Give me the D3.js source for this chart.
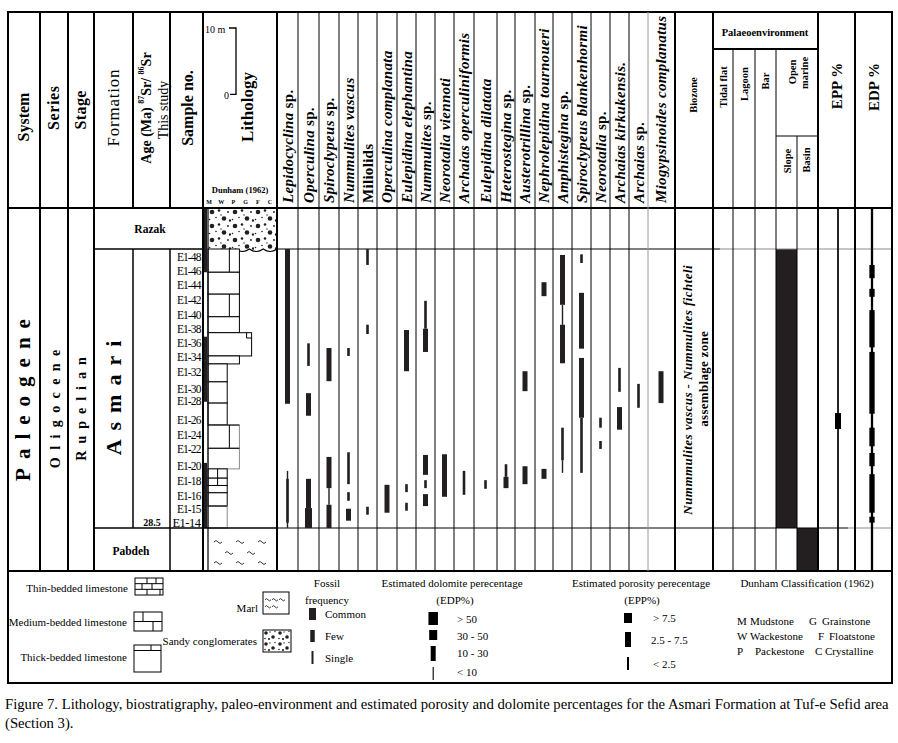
<!DOCTYPE html>
<html><head><meta charset="utf-8">
<script src="https://cdn.jsdelivr.net/npm/d3@7/dist/d3.min.js"></script>
<style>
html,body{margin:0;padding:0;background:#fff;}
svg{display:block;}
text{font-family:"Liberation Serif","Times New Roman",Times,serif;fill:#000;}
</style></head><body>
<svg id="chart" width="898" height="743"></svg>
<script>
// ================= DATA =================
const systemName = "Paleogene";
const seriesName = "Oligocene";
const stageName = "Rupelian";
const formationNames = ["Razak", "Asmari", "Pabdeh"];
const formationTops = [48.2, 42.0, 0.0];      // metres above the base of the Asmari
const formationBases = [42.0, 0.0, -6.5];
const ageValue = "28.5";
const ageHeight = 0.8;
const sampleLabels = ["E1-48","E1-46","E1-44","E1-42","E1-40","E1-38","E1-36","E1-34","E1-32","E1-30","E1-28","E1-26","E1-24","E1-22","E1-20","E1-18","E1-16","E1-15","E1-14"];
const sampleHeights = [40.8,38.7,36.6,34.3,32.1,30.0,27.9,25.7,23.5,20.9,19.1,16.3,14.0,11.9,9.3,7.1,4.8,2.9,0.8];
const dunhamCodes = ["M","W","P","G","F","C"];
// lithology beds: [top m, base m, Dunham texture, bed style]
const lithBeds = [
  [42.0,38.5,"P","brick"],[38.5,35.2,"P","plain"],[35.2,31.8,"P","brick"],[31.8,29.4,"P","plain"],
  [29.4,25.9,"G","plain"],[25.9,24.7,"P","plain"],[24.7,22.0,"W","plain"],[22.0,18.8,"W","plain"],
  [18.8,15.5,"W","plain"],[15.5,12.0,"P","brickgray"],[12.0,8.9,"P","gray"],[8.9,7.5,"W","brick"],
  [7.5,6.4,"W","brick"],[6.4,5.3,"W","plain"],[5.3,3.3,"W","plain"],[3.3,0.0,"W","gray"]
];
const markedIntervals = [[48.2,38.5],[28.8,19.0],[9.8,0.0]];
const speciesNames = ["Lepidocyclina sp.","Operculina sp.","Spiroclypeus sp.","Nummulites vascus","Miliolids",
  "Operculina complanata","Eulepidina elephantina","Nummulites sp.","Neorotalia viennoti","Archaias operculiniformis",
  "Eulepidina dilatata","Heterostegina sp.","Austerotrillina sp.","Nephrolepidina tournoueri","Amphistegina sp.",
  "Spiroclypeus blankenhormi","Neorotalia sp.","Archaias kirkukensis.","Archaias sp.","Miogypsinoides complanatus"];
// ranges per species: [top m, base m, frequency] C=common F=few S=single T=trace
const speciesRanges = [
  [[42.0,18.7,"F"],[8.6,0.0,"T"],[7.4,0.8,"S"]],
  [[27.8,24.4,"S"],[20.3,16.9,"F"],[7.4,3.0,"F"],[3.0,0.0,"C"]],
  [[27.1,22.1,"F"],[10.7,6.0,"F"],[6.0,3.5,"T"],[3.5,0.0,"F"]],
  [[27.1,25.9,"S"],[11.4,6.6,"S"],[5.4,4.1,"S"],[2.9,1.1,"F"]],
  [[42.0,39.6,"S"],[30.6,29.2,"S"],[3.2,2.0,"S"]],
  [[6.5,2.3,"F"]],
  [[29.8,23.6,"F"],[6.6,5.4,"S"],[3.8,2.6,"S"]],
  [[34.2,30.0,"S"],[30.0,26.5,"F"],[11.0,8.0,"F"],[7.2,6.0,"S"],[5.1,3.3,"F"]],
  [[11.1,4.7,"F"]],
  [[8.6,5.0,"S"]],
  [[7.2,5.9,"S"]],
  [[9.6,7.7,"S"],[7.7,6.0,"F"]],
  [[23.6,20.6,"F"],[9.3,6.6,"F"]],
  [[37.0,34.9,"F"],[8.9,7.4,"F"]],
  [[41.1,33.6,"F"],[33.6,30.6,"T"],[30.6,24.8,"F"],[15.1,10.2,"S"],[10.2,8.3,"T"]],
  [[41.2,39.9,"S"],[35.4,27.0,"F"],[25.6,16.6,"F"],[16.6,8.3,"S"]],
  [[16.6,15.1,"S"],[13.1,11.9,"S"]],
  [[24.1,20.5,"S"],[18.2,14.8,"F"]],
  [[21.7,18.1,"S"]],
  [[23.6,18.8,"F"]]
];
const biozoneItalic = "Nummmulites vascus - Nummulites fichteli";
const biozoneTail = "assemblage zone";
const envNames = ["Tidal flat","Lagoon","Bar","Slope","Basin"];
const envRanges = [["Slope",42.0,0.0],["Basin",0.0,-6.5]];
const eppRanges = [[48.2,-6.5,"< 2.5"],[17.3,14.9,"2.5 - 7.5"]];
const edpRanges = [[48.2,-6.5,"< 10"],[39.6,37.6,"10 - 30"],[36.0,34.8,"10 - 30"],[32.8,27.2,"10 - 30"],
  [26.5,17.2,"10 - 30"],[15.1,12.3,"10 - 30"],[11.3,9.3,"10 - 30"],[8.1,2.3,"10 - 30"],[1.7,0.8,"10 - 30"]];
const freqCodes = ["C","F","S"];
const freqLabels = ["Common","Few","Single"];
const edpClasses = ["> 50","30 - 50","10 - 30","< 10"];
const eppClasses = ["> 7.5","2.5 - 7.5","< 2.5"];
const lithLegend = ["Thin-bedded limestone","Medium-bedded limestone","Thick-bedded limestone"];
const dunhamLegendL = [["M","Mudstone"],["W","Wackestone"],["P","Packestone"]];
const dunhamLegendR = [["G","Grainstone"],["F","Floatstone"],["C","Crystalline"]];
const captionLines = ["Figure 7. Lithology, biostratigraphy, paleo-environment and estimated porosity and dolomite percentages for the Asmari Formation at Tuf-e Sefid area","(Section 3)."];

// ================= LAYOUT / STYLE =================
const X0 = 8, X1 = 892, Y0 = 12, YH = 208, YB = 571, YL = 683;
const INK = "#231f20";
const y = d3.scaleLinear().domain([0, 42]).range([528, 249]);
const spWidths = [21,21,20,19,19,20,19,19,19,20,23,18,20,18,19,19,19,19,19,26];
const spEdges = Array.from(d3.cumsum([0, ...spWidths]), v => 277 + v);
const spX = d3.scaleOrdinal(speciesNames, speciesNames.map((d, i) => (spEdges[i] + spEdges[i + 1]) / 2));
const freqW = {C: 7, F: 5, S: 2.6, T: 1.4};
const dunX = d3.scalePoint(dunhamCodes, [209, 270]);
const texEdge = t => dunX(t) + 6;
const envEdges = [713, 733, 755, 776, 797, 818];
const envX0 = d3.scaleOrdinal(envNames, envEdges.slice(0, 5));
const envX1 = d3.scaleOrdinal(envNames, envEdges.slice(1));
const eppX = 838, edpX = 872;
const eppW = {"> 7.5": 8, "2.5 - 7.5": 6, "< 2.5": 1.7};
const edpW = {"> 50": 9.5, "30 - 50": 8, "10 - 30": 5.3, "< 10": 2.3};

const svg = d3.select("#chart");
svg.append("rect").attr("width", 898).attr("height", 743).attr("fill", "#fff");
const defs = svg.append("defs");
const pat = defs.append("pattern").attr("id", "cong").attr("patternUnits", "userSpaceOnUse")
  .attr("x", 208).attr("y", 208).attr("width", 23).attr("height", 14);
[[4,4,2.3],[16,10.5,2.3],[11,2.5,1.3],[8,9.5,0.8],[20,4,0.9],[1.5,11.5,0.8],[13,7,0.7],[22,12.5,1.2]]
  .forEach(c => pat.append("circle").attr("cx", c[0]).attr("cy", c[1]).attr("r", c[2]).attr("fill", INK));

const g = svg.append("g");
function ln(x1, y1, x2, y2, w = 1, c = "#000") {
  return g.append("line").attr("x1", x1).attr("y1", y1).attr("x2", x2).attr("y2", y2)
    .attr("stroke", c).attr("stroke-width", w);
}
function txt(x, yy, s, o = {}) {
  const t = g.append("text").attr("x", x).attr("y", yy).attr("dominant-baseline", "central")
    .attr("text-anchor", o.anchor || "start").style("font-size", (o.size || 11) + "px")
    .style("font-weight", o.weight || "normal").style("font-style", o.style || "normal");
  if (o.ls) t.style("letter-spacing", o.ls + "px");
  t.text(s);
  return t;
}
function vt(x, yc, s, o = {}) {
  const ls = o.ls || 0;
  const anchor = o.anchor || "middle";
  const t = g.append("text").attr("transform", `translate(${x},${yc - (anchor === "middle" ? ls / 2 : 0)}) rotate(-90)`)
    .attr("dominant-baseline", "central").attr("text-anchor", anchor)
    .style("font-size", (o.size || 12) + "px").style("font-weight", o.weight || "bold")
    .style("font-style", o.style || "normal");
  if (ls) t.style("letter-spacing", ls + "px");
  if (s !== null) t.text(s);
  return t;
}
function tilde(x, yy, s = 1) {
  g.append("path").attr("d", `M${x - 4 * s},${yy + 1 * s} q${2 * s},${-3 * s} ${4 * s},0 t${4 * s},0`)
    .attr("fill", "none").attr("stroke", INK).attr("stroke-width", 0.9);
}

// ================= BODY FILLS =================
// Razak conglomerate with scalloped base
(function () {
  const top = y(formationTops[0]), base = y(formationBases[0]);
  let p = `M208,${top} L277,${top} L277,${base}`;
  const n = 5, w = (277 - 208) / n;
  let wave = `M277,${base}`;
  for (let k = 0; k < n; k++) {
    const xa = 277 - k * w;
    p += ` Q${xa - w / 2},${base + 5} ${xa - w},${base}`;
    wave += ` Q${xa - w / 2},${base + 5} ${xa - w},${base}`;
  }
  p += " Z";
  g.append("path").attr("d", p).attr("fill", "url(#cong)");
  g.append("path").attr("d", wave).attr("fill", "none").attr("stroke", "#000").attr("stroke-width", 1.2);
})();

// Pabdeh marl
[[218,541],[240,541],[262,541],[229,552],[251,552],[218,562],[240,562],[262,562]].forEach(p => tilde(p[0], p[1]));

// Lithology beds
lithBeds.forEach(b => {
  const x0 = 208, x1 = texEdge(b[2]), yt = y(b[0]), yb = y(b[1]);
  const gray = b[3].includes("gray");
  g.append("rect").attr("x", x0).attr("y", yt).attr("width", x1 - x0).attr("height", yb - yt)
    .attr("fill", "#fff").attr("stroke", gray ? "#8a8a8a" : "#000").attr("stroke-width", 1);
  if (gray) ln(x0, yt, x1, yt, 1);
  if (b[3].includes("brick")) {
    const xm = x0 + (x1 - x0) * (b[2] === "W" ? 0.5 : 0.68);
    ln(xm, yt, xm, yb, 1);
  }
});
// grainstone step detail
ln(texEdge("G") - 5, y(29.4), texEdge("G") - 5, y(28.6), 1);
ln(texEdge("G") - 5, y(28.6), texEdge("G"), y(28.6), 1);

// Marked intervals on lithology margin
g.selectAll(null).data(markedIntervals).join("rect")
  .attr("x", 203).attr("width", 4).attr("y", d => y(d[0])).attr("height", d => y(d[1]) - y(d[0])).attr("fill", INK);

// Palaeoenvironment fills
g.selectAll(null).data(envRanges).join("rect")
  .attr("x", d => envX0(d[0])).attr("width", d => envX1(d[0]) - envX0(d[0]))
  .attr("y", d => y(d[1])).attr("height", d => y(d[2]) - y(d[1])).attr("fill", INK);

// ================= GRID =================
ln(X0 - 1, Y0, X1 + 1, Y0, 2);
ln(X0, YH, X1, YH, 2);
ln(94, y(42), 203, y(42), 1.3);
ln(277, y(42), 675, y(42), 1);
ln(675, y(42), 720, y(42), 1.2);
ln(720, y(42), X1, y(42), 1, "#8a8a8a");
ln(94, y(0), 277, y(0), 1.3);
ln(277, y(0), 675, y(0), 1);
ln(675, y(0), 848, y(0), 1.2);
ln(848, y(0), X1, y(0), 1, "#8a8a8a");
ln(X0, YB, X1, YB, 2);
ln(X0 - 1, YL, X1 + 1, YL, 2);
ln(713, 49, 818, 49, 2);
ln(776, 136, 818, 136, 1);
[X0, 40, 68, 94, 203, 277, 675, 713, 818, 855, X1].forEach(x => ln(x, Y0, x, YB, 2));
ln(X0, YB, X0, YL, 2); ln(X1, YB, X1, YL, 2);
ln(133, Y0, 133, YH, 2); ln(133, y(42), 133, y(0), 1.5);
ln(170, Y0, 170, YH, 2); ln(170, y(42), 170, YB, 1.5);
ln(208, YH, 208, YB, 1.2);
spEdges.slice(1, -1).forEach((x, i) => ln(x, Y0, x, YB, 1, i === 18 ? "#9a9a9a" : "#000"));
[733, 755, 776].forEach(x => ln(x, 49, x, YB, 1));
ln(797, 136, 797, YB, 1);

// ================= DATA MARKS =================
speciesNames.forEach((nm, i) => {
  g.selectAll(null).data(speciesRanges[i]).join("rect")
    .attr("x", d => spX(nm) - freqW[d[2]] / 2).attr("width", d => freqW[d[2]])
    .attr("y", d => y(d[0])).attr("height", d => y(d[1]) - y(d[0])).attr("fill", INK);
});
g.selectAll(null).data(eppRanges).join("rect")
  .attr("x", d => eppX - eppW[d[2]] / 2).attr("width", d => eppW[d[2]])
  .attr("y", d => y(d[0])).attr("height", d => y(d[1]) - y(d[0])).attr("fill", "#000");
g.selectAll(null).data(edpRanges).join("rect")
  .attr("x", d => edpX - edpW[d[2]] / 2).attr("width", d => edpW[d[2]])
  .attr("y", d => y(d[0])).attr("height", d => y(d[1]) - y(d[0])).attr("fill", "#000");

// ================= HEADER TEXT =================
vt(23, 117, "System", {size: 16});
vt(53, 108, "Series", {size: 16, ls: 0.6});
vt(80, 110, "Stage", {size: 16, ls: 0.4});
vt(113, 108, "Formation", {size: 17, weight: "normal", ls: 0.8});
(function () {
  const t = vt(146, 108, null, {size: 14});
  t.append("tspan").text("Age (Ma) ");
  t.append("tspan").attr("dy", -5).style("font-size", "8px").text("87");
  t.append("tspan").attr("dy", 5).text("Sr/ ");
  t.append("tspan").attr("dy", -5).style("font-size", "8px").text("86");
  t.append("tspan").attr("dy", 5).text("Sr");
  vt(163, 110, "This study", {size: 14, weight: "normal"});
})();
vt(187, 108, "Sample no.", {size: 16});
vt(247, 107, "Lithology", {size: 17});
(function () {
  const top = 28, len = y(0) - y(10);
  g.append("path").attr("d", `M229,${top} H236 V${top + len} H230`).attr("fill", "none")
    .attr("stroke", "#000").attr("stroke-width", 1.3);
  txt(205, top + 1, "10 m", {size: 10});
  txt(229, top + len + 1, "0", {size: 10, anchor: "end"});
})();
txt(240, 190, "Dunham (1962)", {size: 8.5, weight: "bold", anchor: "middle"});
dunhamCodes.forEach(c => txt(dunX(c), 201.5, c, {size: 6, weight: "bold", anchor: "middle"}));

speciesNames.forEach(nm => {
  const t = vt(spX(nm), 203, null, {size: 15, anchor: "start", ls: 0.3});
  if (nm === "Miliolids") { t.append("tspan").text(nm); }
  else if (nm.endsWith(" sp.")) {
    t.append("tspan").style("font-style", "italic").text(nm.slice(0, -4));
    t.append("tspan").text(" sp.");
  } else { t.append("tspan").style("font-style", "italic").text(nm); }
});

vt(693, 95, "Biozone", {size: 10.5});
txt(765, 32, "Palaeoenvironment", {size: 10.5, weight: "bold", anchor: "middle"});
vt(723, 87, "Tidal flat", {size: 10.5});
vt(744, 84, "Lagoon", {size: 10.5});
vt(765, 81, "Bar", {size: 10.5});
vt(792, 72, "Open", {size: 10.5});
vt(804, 73, "marine", {size: 10.5});
vt(787, 161, "Slope", {size: 10.5});
vt(806, 160, "Basin", {size: 10.5});
vt(837, 86, "EPP %", {size: 15});
vt(874, 87, "EDP %", {size: 15});

// ================= BODY TEXT =================
vt(23, 400, systemName, {size: 21, ls: 9});
vt(55, 409, seriesName, {size: 14, ls: 7.4});
vt(81, 409, stageName, {size: 14, ls: 7});
vt(113, 398, formationNames[1], {size: 22, ls: 9});
txt(150, y((formationTops[0] + formationBases[0]) / 2) + 1, formationNames[0], {size: 11.5, weight: "bold", anchor: "middle"});
txt(131, y((formationTops[2] + formationBases[2]) / 2) + 1, formationNames[2], {size: 11.5, weight: "bold", anchor: "middle"});
txt(152, y(ageHeight), ageValue, {size: 10, weight: "bold", anchor: "middle"});
sampleLabels.forEach((s, i) => {
  const last = i === sampleLabels.length - 1;
  txt(200.5, y(sampleHeights[i]), s, {size: last ? 12.5 : 11.5, anchor: "end", ls: last ? -0.5 : -0.9});
});
vt(687, 390, biozoneItalic, {size: 13, style: "italic", ls: 0.45});
vt(703, 379, biozoneTail, {size: 13, ls: 0.3});

// ================= LEGEND =================
function brickBox(x, yy, w, h, rows, verts) {
  g.append("rect").attr("x", x).attr("y", yy).attr("width", w).attr("height", h)
    .attr("fill", "#fff").attr("stroke", "#000").attr("stroke-width", 1);
  const rh = h / rows;
  for (let r = 1; r < rows; r++) ln(x, yy + r * rh, x + w, yy + r * rh, 1);
  verts.forEach(v => v[1].forEach(vx => ln(x + vx, yy + v[0] * rh, x + vx, yy + (v[0] + 1) * rh, 1)));
}
txt(128, 588, lithLegend[0], {anchor: "end", size: 11});
brickBox(135, 578, 28, 17, 3, [[0, [12, 21]], [1, [7, 17]], [2, [12, 25]]]);
txt(127, 622, lithLegend[1], {anchor: "end", size: 11});
brickBox(134, 612, 28, 19, 2, [[0, [9]], [1, [19]]]);
txt(127, 657, lithLegend[2], {anchor: "end", size: 11});
g.append("rect").attr("x", 134).attr("y", 645).attr("width", 27).attr("height", 27)
  .attr("fill", "#fff").attr("stroke", "#000").attr("stroke-width", 1);
ln(134, 650.5, 161, 650.5, 1); ln(151, 645, 151, 650.5, 1);

txt(258, 608, "Marl", {anchor: "end", size: 11});
g.append("rect").attr("x", 263).attr("y", 592).attr("width", 26).attr("height", 22)
  .attr("fill", "#fff").attr("stroke", "#000").attr("stroke-width", 1);
[[268, 599], [275, 599], [282, 599], [268, 606], [275, 606]].forEach(p => tilde(p[0], p[1], 0.75));
txt(257, 641, "Sandy conglomerates", {anchor: "end", size: 11});
(function () {
  const cp = defs.append("pattern").attr("id", "cong2").attr("patternUnits", "userSpaceOnUse")
    .attr("x", 263).attr("y", 630).attr("width", 14).attr("height", 11);
  [[3, 3, 1.8], [10, 7, 1.8], [7, 2, 0.7], [2, 8.5, 0.8], [12, 1.5, 0.7], [6, 9, 1.1]]
    .forEach(c => cp.append("circle").attr("cx", c[0]).attr("cy", c[1]).attr("r", c[2]).attr("fill", INK));
  g.append("rect").attr("x", 263).attr("y", 630).attr("width", 28).attr("height", 22)
    .attr("fill", "url(#cong2)").attr("stroke", "#000").attr("stroke-width", 1);
})();

txt(327, 583, "Fossil", {anchor: "middle", size: 11});
txt(327, 600, "frequency", {anchor: "middle", size: 11});
const freqLegH = [12, 12, 13], freqLegY = [608, 630, 651];
freqCodes.forEach((c, i) => {
  const w = c === "S" ? 2 : (c === "F" ? 4.5 : freqW[c]);
  g.append("rect").attr("x", 312.5 - w / 2).attr("y", freqLegY[i]).attr("width", w).attr("height", freqLegH[i]).attr("fill", INK);
  txt(325, freqLegY[i] + freqLegH[i] / 2, freqLabels[i], {size: 11});
});

txt(452, 583, "Estimated dolomite perecentage", {anchor: "middle", size: 11});
txt(455, 600, "(EDP%)", {anchor: "middle", size: 11});
const edpLegW = [9.5, 8, 5, 1.1], edpLegY = [612, 630, 646, 667], edpLegH = [13, 10, 15, 13], edpTxtY = [619, 636, 653, 672];
edpClasses.forEach((c, i) => {
  g.append("rect").attr("x", 433.2 - edpLegW[i] / 2).attr("y", edpLegY[i]).attr("width", edpLegW[i]).attr("height", edpLegH[i]).attr("fill", "#000");
  txt(457, edpTxtY[i], c, {size: 11});
});

txt(641, 583, "Estimated porosity perecentage", {anchor: "middle", size: 11});
txt(642, 600, "(EPP%)", {anchor: "middle", size: 11});
const eppLegW = [8, 6, 2], eppLegY = [613, 632, 657], eppLegH = [10, 15, 13], eppTxtY = [618, 640, 664];
eppClasses.forEach((c, i) => {
  g.append("rect").attr("x", 628 - eppLegW[i] / 2).attr("y", eppLegY[i]).attr("width", eppLegW[i]).attr("height", eppLegH[i]).attr("fill", "#000");
  txt(i === 1 ? 651 : 653, eppTxtY[i], c, {size: 11});
});

txt(807, 583, "Dunham Classification (1962)", {anchor: "middle", size: 11});
dunhamLegendL.forEach((d, i) => {
  txt(737, 621 + i * 15, d[0], {size: 11});
  txt(i === 2 ? 755 : 750, 621 + i * 15, d[1], {size: 11});
});
dunhamLegendR.forEach((d, i) => {
  txt([809, 818, 815][i], 621 + i * 15, d[0], {size: 11});
  txt([822, 829, 825][i], 621 + i * 15, d[1], {size: 11});
});

txt(5, 704, captionLines[0], {size: 14.7});
txt(5, 723, captionLines[1], {size: 14.7});
</script>
</body></html>
